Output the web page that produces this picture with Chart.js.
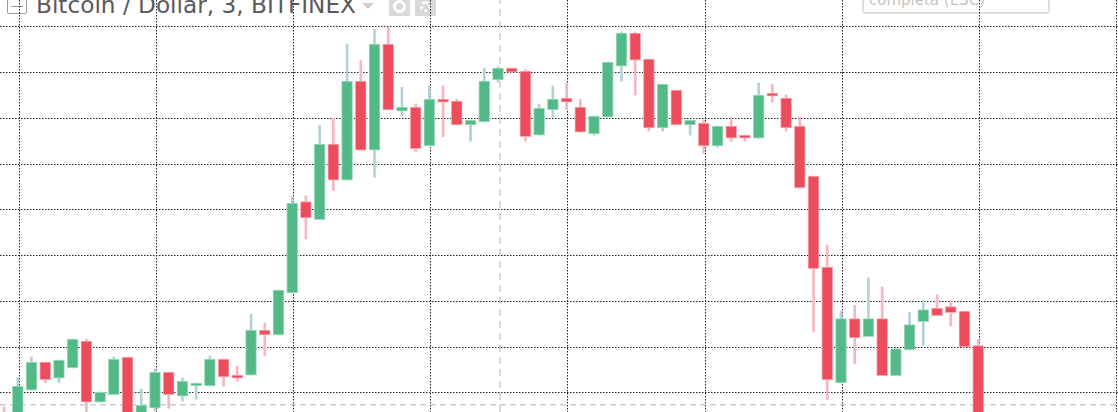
<!DOCTYPE html>
<html>
<head>
<meta charset="utf-8">
<title>Bitcoin / Dollar</title>
<script src="https://cdn.jsdelivr.net/npm/chart.js@4"></script>
<style>
  html, body { margin: 0; padding: 0; background: #fff; overflow: hidden; }
  #wrap { position: relative; width: 1118px; height: 412px; overflow: hidden; }
  #wrap canvas { position: absolute; left: 0; top: 0; z-index: 2; }
  #title {
    position: absolute; left: 36px; top: -9px; z-index: 1; white-space: nowrap;
    font: 23.2px "DejaVu Sans", sans-serif; color: #5a5a5a;
  }
  #collapse {
    position: absolute; left: 7px; top: -6px; width: 18px; height: 18px; z-index: 1;
    border: 1px solid #9a9a9a; border-radius: 2px; box-sizing: content-box;
  }
  #collapse:after {
    content: ""; position: absolute; left: 3px; right: 3px; top: 11px; height: 1px; background: #9a9a9a;
  }
  #arrow {
    position: absolute; left: 362px; top: 3px; z-index: 1; width: 0; height: 0;
    border-left: 6px solid transparent; border-right: 6px solid transparent; border-top: 6px solid #cfcfcf;
  }
  .icon {
    position: absolute; top: -4px; width: 21px; height: 20px; background: #d9d9d9; z-index: 1;
  }
  #camera { left: 389px; }
  #camera:after {
    content: ""; position: absolute; left: 4px; top: 4px; width: 7px; height: 7px;
    border: 3px solid #fff; border-radius: 50%;
  }
  #gear { left: 415px; }
  #gear:after {
    content: ""; position: absolute; left: 5px; top: 5px; width: 5px; height: 5px;
    border: 3px dotted #fff; border-radius: 50%;
  }
  #exit {
    position: absolute; left: 862px; top: -30px; width: 184px; height: 40px; z-index: 1;
    border: 2px solid #dedede; border-radius: 4px;
    font: 15px "DejaVu Sans", sans-serif; color: #c4c4c4;
  }
  #exit span { position: absolute; left: 5px; bottom: 3px; white-space: nowrap; }
</style>
</head>
<body>
<div id="wrap">
  <div id="collapse"></div>
  <div id="title">Bitcoin / Dollar, 3, BITFINEX</div>
  <div id="arrow"></div>
  <div class="icon" id="camera"></div>
  <div class="icon" id="gear"></div>
  <div id="exit"><span>completa (ESC)</span></div>
  <canvas id="chart"></canvas>
</div>
<script>
const candles = [-1, 0, 1, 2, 3, 4, 5, 6, 7, 8, 9, 10, 11, 12, 13, 14, 15, 16, 17, 18, 19, 20, 21, 22, 23, 24, 25, 26, 27, 28, 29, 30, 31, 32, 33, 34, 35, 36, 37, 38, 39, 40, 41, 42, 43, 44, 45, 46, 47, 48, 49, 50, 51, 52, 53, 54, 55, 56, 57, 58, 59, 60, 61, 62, 63, 64, 65, 66, 67, 68, 69, 70];

const opens = [6499, 6493.5, 6510.9, 6525, 6516.9, 6522, 6535.5, 6504.9, 6508.7, 6527.4, 6498, 6501.9, 6519.9, 6507.9, 6513, 6513, 6526.5, 6518.4, 6518.4, 6540.9, 6538.5, 6559.5, 6605.2, 6596.2, 6633.9, 6615.9, 6665.4, 6630.9, 6684, 6650.4, 6652.5, 6633, 6656.4, 6655.5, 6643.5, 6645, 6666, 6672, 6670.5, 6638.4, 6651, 6657, 6652.5, 6639, 6647.4, 6672.9, 6689.4, 6676.5, 6642, 6660.9, 6643.5, 6644.4, 6633, 6642.9, 6638.4, 6636.9, 6659.4, 6657, 6642.9, 6618, 6572.4, 6514.5, 6546.7, 6537.7, 6546.7, 6518.2, 6531, 6545.2, 6551.9, 6552.7, 6550.4, 6533.2];
const highs = [6502.5, 6517.2, 6527.5, 6525, 6526, 6536.5, 6536.4, 6510, 6527.5, 6527.5, 6511.5, 6521.4, 6519.9, 6516.9, 6514.5, 6528, 6526.5, 6522.9, 6549, 6544.5, 6561, 6607.7, 6608.2, 6643.4, 6646.9, 6684, 6675.7, 6691.5, 6692.4, 6662.4, 6654, 6663, 6663, 6656.4, 6645.9, 6672, 6672.7, 6672, 6671.2, 6654, 6663, 6664.4, 6656.4, 6648, 6675, 6690, 6690, 6676.5, 6663.9, 6660.9, 6645.9, 6646, 6642.9, 6647.4, 6638.4, 6664.5, 6663.9, 6658.5, 6647.4, 6618, 6583.5, 6550.5, 6553.4, 6567, 6562.5, 6531.7, 6549.7, 6555.7, 6558.7, 6555.7, 6550.4, 6536.2];
const lows = [6491, 6491, 6510.9, 6514.7, 6514.7, 6522, 6498.5, 6504.9, 6508.7, 6496, 6498, 6500.5, 6501.9, 6505.5, 6506.4, 6513, 6513, 6515.4, 6518.4, 6528, 6538.5, 6559.5, 6586.5, 6596.2, 6610.7, 6615.9, 6630.9, 6617.4, 6651, 6648, 6630.2, 6633, 6637.7, 6643.5, 6635.4, 6645, 6664.9, 6669.9, 6635.4, 6638.4, 6647.4, 6651, 6639.9, 6638.4, 6647.4, 6665.4, 6658.5, 6640.5, 6640.5, 6643.5, 6638.4, 6629.2, 6632.4, 6635.4, 6635.4, 6636.9, 6654.9, 6640.5, 6612, 6540, 6506.2, 6514.5, 6524.2, 6537.7, 6518.2, 6518.2, 6531, 6533.4, 6548.2, 6543, 6532.5, 6496];
const closes = [6493.5, 6513, 6525, 6516.2, 6525.9, 6536.4, 6504.9, 6510, 6526.5, 6497, 6503.4, 6519.9, 6508.7, 6515.4, 6514.5, 6526.5, 6517.5, 6516.9, 6540.9, 6538.5, 6561, 6604.4, 6597, 6633.9, 6615.9, 6665.4, 6630.9, 6684, 6651, 6652.5, 6631.7, 6656.4, 6654.9, 6643.5, 6645.9, 6665.4, 6672, 6669.9, 6637.7, 6651.9, 6656.4, 6654.9, 6639.9, 6648, 6675, 6689.4, 6675.9, 6642, 6663.9, 6643.5, 6645.9, 6633, 6642.9, 6636.9, 6636.9, 6658.5, 6657.9, 6642, 6612, 6571.7, 6516, 6546.7, 6537, 6546.7, 6518.2, 6531.7, 6543.7, 6551.2, 6548.2, 6549.7, 6532.5, 6496];

const priceLines = [6509.65, 6532.5, 6555.4, 6578.3, 6601.1, 6624, 6646.9, 6669.8, 6692.6];
const timeLines = [0.09, 10.09, 20.09, 30.09, 40.09, 50.09, 60.09, 70.09, 80.09];
const crossCandle = 35.15;
const crossPrice = 6503.6;

const GREEN = "#53b987";
const RED = "#eb4d5c";

const isUp = (i) => closes[i] >= opens[i];

new Chart(document.getElementById("chart"), {
  data: {
    labels: candles,
    datasets: [
      {
        type: "bar",
        label: "body",
        grouped: false,
        order: 1,
        data: candles.map((c, i) => [opens[i], closes[i]]),
        barThickness: 11,
        backgroundColor: candles.map((c, i) => (isUp(i) ? GREEN : RED)),
        borderColor: candles.map((c, i) => (isUp(i) ? "#a5dcc3" : "#f7aab3")),
        borderWidth: 1,
        borderSkipped: false,
      },
      {
        type: "bar",
        label: "wick",
        grouped: false,
        order: 2,
        data: candles.map((c, i) => [lows[i], highs[i]]),
        barThickness: 2,
        backgroundColor: candles.map((c, i) => (isUp(i) ? "#b3d2d8" : "#f6b7c0")),
        borderWidth: 0,
      },
      {
        type: "line",
        label: "cross x",
        order: 3,
        data: [
          { x: crossCandle, y: 6500 },
          { x: crossCandle, y: 6706 },
        ],
        borderColor: "#b4b4b4",
        borderWidth: 1,
        borderDash: [7, 5],
        pointRadius: 0,
      },
      {
        type: "line",
        label: "cross y",
        order: 3,
        data: [
          { x: -1.297, y: crossPrice },
          { x: 80.19, y: crossPrice },
        ],
        borderColor: "#b4b4b4",
        borderWidth: 1,
        borderDash: [6, 4],
        pointRadius: 0,
      },
    ],
  },
  options: {
    responsive: true,
    maintainAspectRatio: false,
    animation: false,
    layout: { padding: 0 },
    plugins: {
      legend: { display: false },
      tooltip: { enabled: false },
    },
    scales: {
      x: {
        type: "linear",
        offset: false,
        min: -1.297,
        max: 80.19,
        afterBuildTicks: (scale) => {
          scale.ticks = timeLines.map((value) => ({ value }));
        },
        grid: { offset: false, color: "#222222", lineWidth: 1, drawTicks: false },
        border: { display: false, dash: [1.5, 1.5] },
        ticks: { display: false },
      },
      y: {
        min: 6500,
        max: 6706,
        afterBuildTicks: (scale) => {
          scale.ticks = priceLines.map((value) => ({ value }));
        },
        grid: { color: "#222222", lineWidth: 1, drawTicks: false },
        border: { display: false, dash: [1.5, 1.5] },
        ticks: { display: false },
      },
    },
  },
});
</script>
</body>
</html>
